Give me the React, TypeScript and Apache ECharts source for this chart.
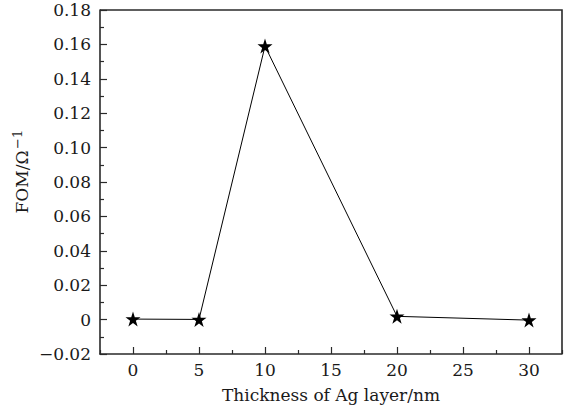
import React, { useEffect, useRef } from "react";
import * as echarts from "echarts";

// Ag layer thickness (nm) and figure of merit (Ω⁻¹)
const thickness = [0, 5, 10, 20, 30];
const fom = [0.0003, 0.0001, 0.159, 0.0019, -0.0003];

const xTicks = [0, 5, 10, 15, 20, 25, 30];
const yTicks = [-0.02, 0, 0.02, 0.04, 0.06, 0.08, 0.1, 0.12, 0.14, 0.16, 0.18];

const STAR =
  "path://M50,0 L61.8,36.2 L100,36.2 L69.1,58.8 L80.9,95.1 L50,72.7 L19.1,95.1 L30.9,58.8 L0,36.2 L38.2,36.2 Z";

const FONT = "'DejaVu Serif', 'Liberation Serif', serif";
const TXT = "#1a1a1a";
const AXIS = "#2a2a2a";

function fmtY(v: number): string {
  const s = Math.abs(v) < 1e-9 ? "0" : v.toFixed(2);
  return s.startsWith("-") ? "\u2212" + s.slice(1) : s;
}

const GRID = { left: 100, top: 10, right: 6, bottom: 56 };

export default function App() {
  const ref = useRef<HTMLDivElement>(null);

  useEffect(() => {
    if (!ref.current) return;
    const chart = echarts.init(ref.current, undefined, { renderer: "svg" });
    const W = 568;
    const H = 410;
    const plotRight = W - GRID.right;
    const plotBottom = H - GRID.bottom;
    const midY = (GRID.top + plotBottom) / 2;

    chart.setOption({
      animation: false,
      backgroundColor: "#fff",
      textStyle: { fontFamily: FONT },
      grid: { ...GRID, containLabel: false },
      xAxis: [
        {
          // scale, short ticks between labels and long ticks on labelled values
          type: "value",
          min: -2.5,
          max: 32.5,
          interval: 5,
          axisLine: { show: true, onZero: false, lineStyle: { color: AXIS, width: 1.6 } },
          axisTick: { show: true, inside: true, length: 4, lineStyle: { color: AXIS, width: 1.2 } },
          minorTick: {
            show: true,
            splitNumber: 2,
            length: 7,
            lineStyle: { color: AXIS, width: 1.2 },
          },
          axisLabel: { show: false },
          splitLine: { show: false },
          minorSplitLine: { show: false },
        },
        {
          // labels and title
          type: "value",
          position: "bottom",
          min: -2.5,
          max: 32.5,
          interval: 2.5,
          name: "Thickness of Ag layer/nm",
          nameLocation: "middle",
          nameGap: 32,
          nameTextStyle: { fontFamily: FONT, fontSize: 17, color: TXT },
          axisLine: { show: false },
          axisTick: { show: false },
          axisLabel: {
            fontFamily: FONT,
            fontSize: 17,
            color: TXT,
            margin: 7,
            showMinLabel: false,
            showMaxLabel: false,
            formatter: (v: number) => (xTicks.includes(v) ? String(v) : ""),
          },
          splitLine: { show: false },
        },
      ],
      yAxis: {
        type: "value",
        min: -0.02,
        max: 0.18,
        interval: 0.02,
        axisLine: { show: true, onZero: false, lineStyle: { color: AXIS, width: 1.6 } },
        axisTick: { show: true, inside: true, length: 7, lineStyle: { color: AXIS, width: 1.2 } },
        minorTick: {
          show: true,
          splitNumber: 2,
          length: 4,
          lineStyle: { color: AXIS, width: 1.2 },
        },
        axisLabel: {
          fontFamily: FONT,
          fontSize: 17,
          color: TXT,
          margin: 9,
          formatter: (v: number) => {
            const hit = yTicks.find((t) => Math.abs(t - v) < 1e-6);
            return hit === undefined ? "" : fmtY(hit);
          },
        },
        splitLine: { show: false },
        minorSplitLine: { show: false },
      },
      series: [
        {
          type: "line",
          xAxisIndex: 0,
          data: thickness.map((t, i) => [t, fom[i]]),
          symbol: STAR,
          symbolSize: 15,
          showAllSymbol: true,
          lineStyle: { color: "#000", width: 1 },
          itemStyle: { color: "#000" },
          z: 3,
        },
      ],
      graphic: [
        // top and right edges of the plot frame
        {
          type: "polyline",
          shape: { points: [[GRID.left, GRID.top], [plotRight, GRID.top], [plotRight, plotBottom]] },
          style: { stroke: AXIS, lineWidth: 1.6, fill: "none" },
          silent: true,
        },
        // y-axis title, FOM/Ω with a −1 superscript
        {
          type: "text",
          x: 22,
          y: midY,
          rotation: Math.PI / 2,
          style: {
            text: "FOM/\u03a9",
            fontFamily: FONT,
            fontSize: 17,
            fill: TXT,
            textAlign: "center",
            textVerticalAlign: "middle",
          },
          silent: true,
        },
        {
          type: "text",
          x: 17,
          y: midY - 33,
          rotation: Math.PI / 2,
          style: {
            text: "\u22121",
            fontFamily: FONT,
            fontSize: 13,
            fill: TXT,
            textAlign: "left",
            textVerticalAlign: "middle",
          },
          silent: true,
        },
      ],
    });
    return () => chart.dispose();
  }, []);

  return (
    <div
      ref={ref}
      style={{ position: "absolute", left: 0, top: 0, width: 568, height: 410 }}
    />
  );
}
